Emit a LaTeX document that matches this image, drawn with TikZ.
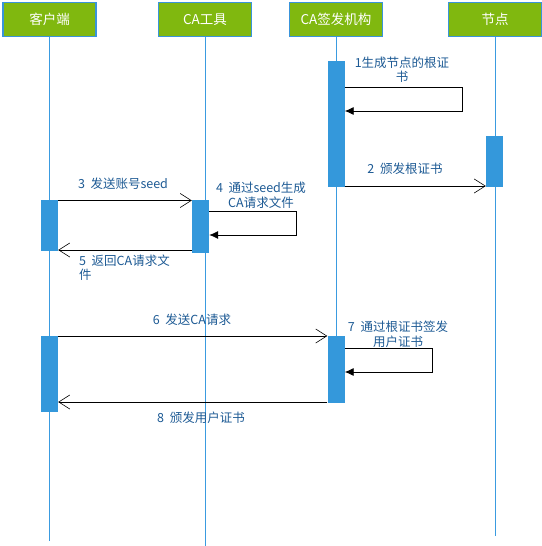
\documentclass[tikz,border=0pt]{standalone}
\usepackage{fontspec}
\setmainfont{Noto Sans CJK SC}
\usetikzlibrary{arrows.meta}
\definecolor{hdgreen}{HTML}{80B80F}
\definecolor{hdborder}{HTML}{3A94DA}
\definecolor{lifeblue}{HTML}{3A9BE0}
\definecolor{barblue}{HTML}{3498DB}
\definecolor{txtblue}{HTML}{1D5A94}
\begin{document}
\begin{tikzpicture}[x=1pt,y=-1pt,
  head/.style={draw=hdborder, line width=1.2pt, fill=hdgreen, text=white, minimum width=93pt, minimum height=34pt, inner sep=0pt, font=\fontsize{13.5}{15}\selectfont},
  life/.style={draw=lifeblue, line width=0.9pt},
  bar/.style={fill=barblue, draw=none, minimum width=17pt, inner sep=0pt, anchor=north},
  msg/.style={draw=black, line width=0.8pt, -{Straight Barb[length=11pt,width=14pt,line width=0.6pt]}},
  selfmsg/.style={draw=black, line width=0.8pt, -{Latex[length=9pt,width=8pt]}},
  lbl/.style={text=txtblue, font=\fontsize{12.5}{14.5}\selectfont, inner sep=0pt, align=center},
]
\useasboundingbox (0,0) rectangle (541,546);
% headers
\node[head] (cli) at (49.5,19.5) {客户端};
\node[head] (tool) at (205,19.5) {CA工具};
\node[head] (ca) at (336,19.5) {CA签发机构};
\node[head] (nd) at (495,19.5) {节点};
% lifelines
\coordinate (cliEnd) at (49.5,541);
\coordinate (toolEnd) at (205,546);
\coordinate (caEnd) at (336,403);
\coordinate (ndEnd) at (495,536);
\draw[life] (cli) -- (cliEnd);
\draw[life] (tool) -- (toolEnd);
\draw[life] (ca) -- (caEnd);
\draw[life] (nd) -- (ndEnd);
% activation bars
\node[bar, minimum height=126pt] (cab1) at (336,61) {};
\node[bar, minimum height=51pt] (nb) at (494.5,136) {};
\node[bar, minimum height=51pt] (cb1) at (49.5,200) {};
\node[bar, minimum height=53pt] (tb1) at (200.5,200) {};
\node[bar, minimum height=76pt] (cb2) at (49.5,336) {};
\node[bar, minimum height=67pt] (cab2) at (336,336) {};
% message 1 (self)
\coordinate (s1) at (462,87);
\draw[selfmsg] (cab1.east |- s1) -- (s1) |- (cab1.east |- 0,111);
\node[lbl] (l1) at (402,69.5) {1生成节点的根证\\书};
% message 2
\draw[msg] (cab1.east |- 0,186) -- (nb.west |- 0,186);
\node[lbl] (l2) at (405,169) {2\ \ 颁发根证书};
% message 3
\draw[msg] (cb1.east |- 0,200.5) -- (tb1.west |- 0,200.5);
\node[lbl] (l3) at (123,184) {3\ \ 发送账号seed};
% message 4 (self)
\coordinate (s4) at (296,211.5);
\draw[selfmsg] (tb1.east |- s4) -- (s4) |- (tb1.east |- 0,235);
\node[lbl] (l4) at (261,195.5) {4\ \ 通过seed生成\\CA请求文件};
% message 5
\draw[msg] (tb1.west |- 0,250) -- (cb1.east |- 0,250);
\node[lbl, align=left, anchor=west] (l5) at (79,267.5) {5\ \ 返回CA请求文\\件};
% message 6
\draw[msg] (cb2.east |- 0,336) -- (cab2.west |- 0,336);
\node[lbl] (l6) at (192,320) {6\ \ 发送CA请求};
% message 7 (self)
\coordinate (s7) at (432,348);
\draw[selfmsg] (cab2.east |- s7) -- (s7) |- (cab2.east |- 0,372);
\node[lbl] (l7) at (398,334.5) {7\ \ 通过根证书签发\\用户证书};
% message 8
\draw[msg] (cab2.west |- 0,402) -- (cb2.east |- 0,402);
\node[lbl] (l8) at (201,418) {8\ \ 颁发用户证书};
\end{tikzpicture}
\end{document}
